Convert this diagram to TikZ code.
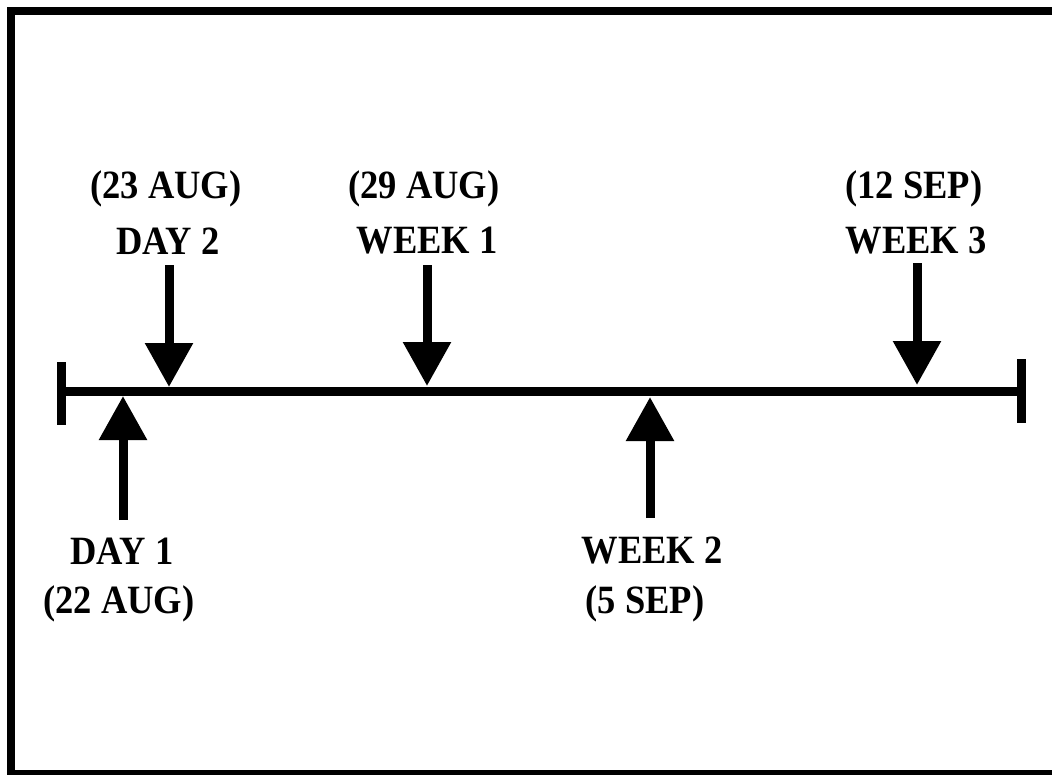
\documentclass[tikz,border=0pt]{standalone}
\usepackage{fontspec}
\setmainfont{Liberation Serif}
\usetikzlibrary{arrows.meta}
\newcommand{\tallt}[1]{\scalebox{1}[1.1]{#1}}
\tikzset{
  lbl/.style={font=\bfseries\fontsize{36.5}{40}\selectfont, inner sep=0pt, anchor=center},
  arr/.style={line width=9pt, -{Triangle[width=46pt,length=44pt]}},
  bar/.style={line width=9pt},
  frame/.style={line width=8pt}
}
\begin{document}
\begin{tikzpicture}[x=1pt,y=-1pt]
\useasboundingbox (0,0) rectangle (1052,774);
% frame
\coordinate (f1) at (1060,11);
\coordinate (f2) at (11,11);
\coordinate (f3) at (11,774);
\coordinate (f4) at (1060,774);
\draw[frame] (f1) -- (f2) -- (f3) -- (f4);
% timeline
\coordinate (L) at (61,391);
\coordinate (R) at (1021,391);
\coordinate (Lt) at (61,362);
\coordinate (Lb) at (61,425);
\coordinate (Rt) at (1021,359);
\coordinate (Rb) at (1021,423);
\draw[bar] (L) -- (R);
\draw[bar] (Lt) -- (Lb);
\draw[bar] (Rt) -- (Rb);
% arrows
\coordinate (d2s) at (169,265); \coordinate (d2t) at (169,387);
\coordinate (w1s) at (427,265); \coordinate (w1t) at (427,386);
\coordinate (w3s) at (917,263); \coordinate (w3t) at (917,385);
\coordinate (d1s) at (123,520); \coordinate (d1t) at (123,396);
\coordinate (w2s) at (650,518); \coordinate (w2t) at (650,397);
\draw[arr] (d2s) -- (d2t);
\draw[arr] (w1s) -- (w1t);
\draw[arr] (w3s) -- (w3t);
\draw[arr] (d1s) -- (d1t);
\draw[arr] (w2s) -- (w2t);
% labels
\node[lbl] (n23) at (166,189) {\tallt{(23 AUG)}};
\node[lbl] (nd2) at (168,241) {\tallt{DAY 2}};
\node[lbl] (n29) at (424,189) {\tallt{(29 AUG)}};
\node[lbl] (nw1) at (427,241) {\tallt{WEEK 1}};
\node[lbl] (n12) at (914,189) {\tallt{(12 SEP)}};
\node[lbl] (nw3) at (916,241) {\tallt{WEEK 3}};
\node[lbl] (nd1) at (122,551) {\tallt{DAY 1}};
\node[lbl] (n22) at (119,604) {\tallt{(22 AUG)}};
\node[lbl] (nw2) at (652,551) {\tallt{WEEK 2}};
\node[lbl] (n5)  at (645,604) {\tallt{(5 SEP)}};
\end{tikzpicture}
\end{document}
